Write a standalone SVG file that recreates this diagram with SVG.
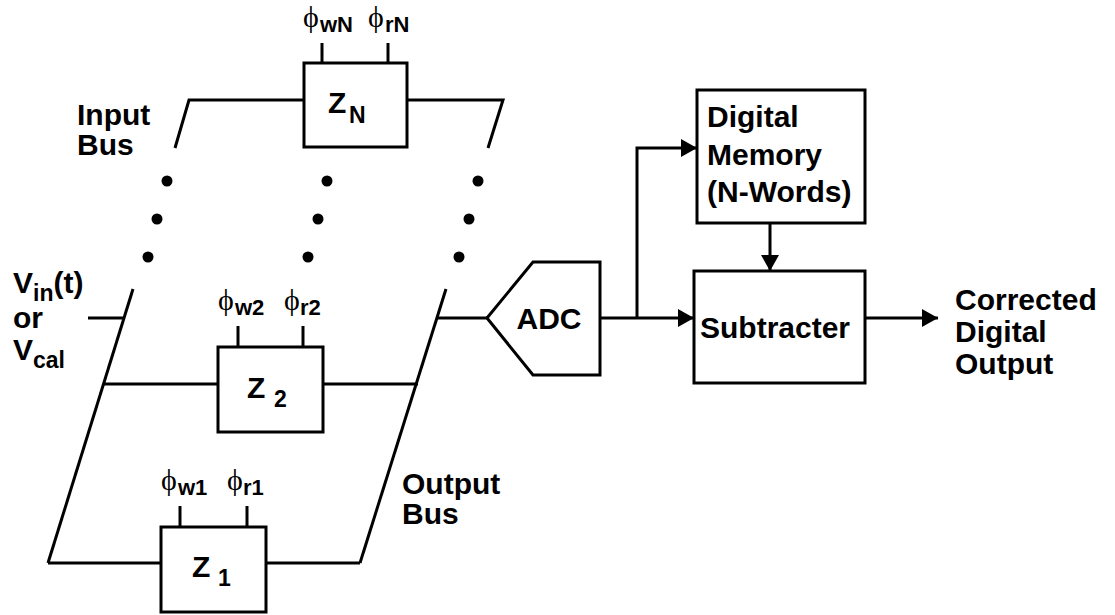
<svg xmlns="http://www.w3.org/2000/svg" width="1115" height="615" viewBox="0 0 1115 615">
<style>
.ln{stroke:#000;stroke-width:3;fill:none}
.bx{fill:#fff;stroke:#000;stroke-width:3}
.t{font-family:"Liberation Sans",Arial,sans-serif;font-weight:bold;font-size:30px;fill:#000}
.z{font-size:30px}
.s{font-size:23px}
.ps{font-size:22px}
.phi{font-family:"Liberation Serif","DejaVu Serif",serif;font-size:30px;font-weight:normal}
.dot{fill:#000}
</style>
<defs>
<marker id="ah" viewBox="0 0 16 18" refX="16" refY="9" markerWidth="16" markerHeight="18" markerUnits="userSpaceOnUse" orient="auto">
<path d="M0,0 L16,9 L0,18 Z" fill="#000"/>
</marker>
</defs>
<g id="connectors">
<polyline class="ln" points="175,148 189,100 304,100"/>
<polyline class="ln" points="407,100 503,100 488,148"/>
<line class="ln" x1="133" y1="289" x2="48" y2="563"/>
<line class="ln" x1="48" y1="563" x2="161" y2="563"/>
<line class="ln" x1="88" y1="318" x2="124" y2="318"/>
<line class="ln" x1="104" y1="384" x2="218" y2="384"/>
<line class="ln" x1="446" y1="289" x2="360" y2="563"/>
<line class="ln" x1="266" y1="563" x2="360" y2="563"/>
<line class="ln" x1="323" y1="384" x2="418" y2="384"/>
<line class="ln" x1="437" y1="318" x2="487" y2="318"/>
<line class="ln" x1="322" y1="43" x2="322" y2="63"/>
<line class="ln" x1="388" y1="43" x2="388" y2="63"/>
<line class="ln" x1="238" y1="326" x2="238" y2="347"/>
<line class="ln" x1="303" y1="326" x2="303" y2="347"/>
<line class="ln" x1="180" y1="506" x2="180" y2="527"/>
<line class="ln" x1="247" y1="506" x2="247" y2="527"/>
<line class="ln" x1="600" y1="318" x2="694" y2="318" marker-end="url(#ah)"/>
<polyline class="ln" points="637,318 637,148 697,148" marker-end="url(#ah)"/>
<line class="ln" x1="770" y1="223" x2="770" y2="271" marker-end="url(#ah)"/>
<line class="ln" x1="865" y1="318" x2="938" y2="318" marker-end="url(#ah)"/>
<circle class="dot" cx="167" cy="181" r="5.5"/>
<circle class="dot" cx="157" cy="219" r="5.5"/>
<circle class="dot" cx="148" cy="257" r="5.5"/>
<circle class="dot" cx="327" cy="181" r="5.5"/>
<circle class="dot" cx="318" cy="219" r="5.5"/>
<circle class="dot" cx="308" cy="257" r="5.5"/>
<circle class="dot" cx="478" cy="181" r="5.5"/>
<circle class="dot" cx="469" cy="219" r="5.5"/>
<circle class="dot" cx="459" cy="257" r="5.5"/>
</g>
<g id="zN">
<rect class="bx" x="304" y="63" width="103" height="84"/>
<text class="t z" x="328" y="113">Z<tspan class="s" x="349" y="123">N</tspan></text>
<text class="t"><tspan class="phi" x="303" y="27">ϕ</tspan><tspan class="ps" x="320" y="32">wN</tspan></text>
<text class="t"><tspan class="phi" x="368" y="27">ϕ</tspan><tspan class="ps" x="385" y="32">rN</tspan></text>
</g>
<g id="z2">
<rect class="bx" x="218" y="347" width="105" height="85"/>
<text class="t z" x="247" y="398">Z<tspan class="s" x="274" y="407">2</tspan></text>
<text class="t"><tspan class="phi" x="218" y="310">ϕ</tspan><tspan class="ps" x="235" y="315">w2</tspan></text>
<text class="t"><tspan class="phi" x="284" y="310">ϕ</tspan><tspan class="ps" x="300" y="315">r2</tspan></text>
</g>
<g id="z1">
<rect class="bx" x="161" y="527" width="105" height="85"/>
<text class="t z" x="192" y="577">Z<tspan class="s" x="218" y="586">1</tspan></text>
<text class="t"><tspan class="phi" x="161" y="490">ϕ</tspan><tspan class="ps" x="178" y="495">w1</tspan></text>
<text class="t"><tspan class="phi" x="227" y="490">ϕ</tspan><tspan class="ps" x="243" y="495">r1</tspan></text>
</g>
<g id="adc">
<polygon class="bx" points="487,318 533,262 600,262 600,375 533,375"/>
<text class="t" x="549" y="329" text-anchor="middle">ADC</text>
</g>
<g id="memory">
<rect class="bx" x="697" y="90" width="168" height="133"/>
<text class="t" x="707" y="127">Digital</text>
<text class="t" x="707" y="165">Memory</text>
<text class="t" x="707" y="202">(N-Words)</text>
</g>
<g id="subtracter">
<rect class="bx" x="694" y="271" width="171" height="112"/>
<text class="t" x="700" y="338">Subtracter</text>
</g>
<g id="labels">
<text class="t" x="77" y="125">Input</text>
<text class="t" x="77" y="155">Bus</text>
<text class="t" x="13" y="293">V<tspan class="s" y="301">in</tspan><tspan y="293">(t)</tspan></text>
<text class="t" x="13" y="328">or</text>
<text class="t" x="13" y="360">V<tspan class="s" y="368">cal</tspan></text>
<text class="t" x="402" y="494">Output</text>
<text class="t" x="402" y="524">Bus</text>
<text class="t" x="955" y="310">Corrected</text>
<text class="t" x="955" y="342">Digital</text>
<text class="t" x="955" y="374">Output</text>
</g>
</svg>
